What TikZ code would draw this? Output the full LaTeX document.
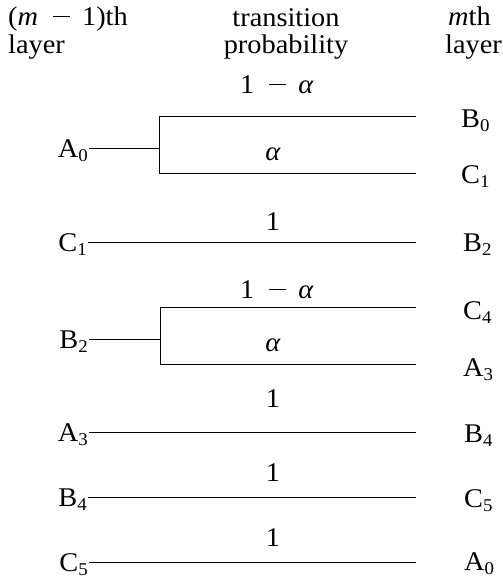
\documentclass[tikz,border=0pt]{standalone}
\usepackage{fontspec}
\setmainfont{Liberation Serif}[FakeStretch=1.05]
% state name with lowered index, e.g. \st{A}{0}
\newcommand{\st}[2]{#1\raisebox{-4pt}{\fontsize{18}{18}\selectfont #2}}
% long minus sign between terms
\newcommand{\mns}{\hspace{0.55em}\rule[8.5pt]{17pt}{0.8pt}\hspace{0.45em}}
\newcommand{\oma}{1\mns\textit{α}}
\begin{document}
\begin{tikzpicture}[x=1pt,y=-1pt,
  every node/.style={inner sep=0pt,font=\fontsize{27}{31}\selectfont},
  lab/.style={text height=18pt,text depth=0pt,inner sep=1pt},
  prob/.style={anchor=center},
  link/.style={line width=0.9pt}]
\useasboundingbox (0,0) rectangle (503,579);

% column headings
\node[anchor=base west] (h1a) at (8,25) {(\textit{m}\mns1)th};
\node[anchor=base west] (h1b) at (8,53) {layer};
\node[anchor=base] (h2a) at (286,26) {transition};
\node[anchor=base] (h2b) at (286,53) {probability};
\node[anchor=base west] (h3a) at (448,25) {\textit{m}th};
\node[anchor=base west] (h3b) at (445,53) {layer};

% (m-1)th layer states
\node[lab,anchor=east] (lA0) at (89,148) {\st{A}{0}};
\node[lab,anchor=east] (lC1) at (88,242) {\st{C}{1}};
\node[lab,anchor=east] (lB2) at (89,339) {\st{B}{2}};
\node[lab,anchor=east] (lA3) at (89,432) {\st{A}{3}};
\node[lab,anchor=east] (lB4) at (88,497) {\st{B}{4}};
\node[lab,anchor=east] (lC5) at (89,562) {\st{C}{5}};

% mth layer states
\node[lab,anchor=west] (rB0) at (460,118) {\st{B}{0}};
\node[lab,anchor=west] (rC1) at (460,174) {\st{C}{1}};
\node[lab,anchor=west] (rB2) at (462,242) {\st{B}{2}};
\node[lab,anchor=west] (rC4) at (462,310) {\st{C}{4}};
\node[lab,anchor=west] (rA3) at (462,367) {\st{A}{3}};
\node[lab,anchor=west] (rB4) at (463,433) {\st{B}{4}};
\node[lab,anchor=west] (rC5) at (463,498) {\st{C}{5}};
\node[lab,anchor=west] (rA0) at (463,561) {\st{A}{0}};

% fork points and line ends
\coordinate (f1) at (159,148);
\coordinate (f2) at (160,339);
\coordinate (e1) at (416,116);
\coordinate (e2) at (416,173);
\coordinate (e3) at (416,242);
\coordinate (e4) at (416,307);
\coordinate (e5) at (416,364);
\coordinate (e6) at (416,432);
\coordinate (e7) at (416,497);
\coordinate (e8) at (416,562);

% transitions
\draw[link] (lA0.east) -- (f1) |- (e1);
\draw[link] (f1) |- (e2);
\draw[link] (lC1.east) -- (lC1.east -| e3);
\draw[link] (lB2.east) -- (f2) |- (e4);
\draw[link] (f2) |- (e5);
\draw[link] (lA3.east) -- (lA3.east -| e6);
\draw[link] (lB4.east) -- (lB4.east -| e7);
\draw[link] (lC5.east) -- (lC5.east -| e8);

% probabilities
\node[prob] (p1) at (277,85) {\oma};
\node[prob] (p2) at (273,154) {\textit{α}};
\node[prob] (p3) at (273,222) {1};
\node[prob] (p4) at (277,290) {\oma};
\node[prob] (p5) at (273,345) {\textit{α}};
\node[prob] (p6) at (273,399) {1};
\node[prob] (p7) at (273,473) {1};
\node[prob] (p8) at (273,538) {1};
\end{tikzpicture}
\end{document}
